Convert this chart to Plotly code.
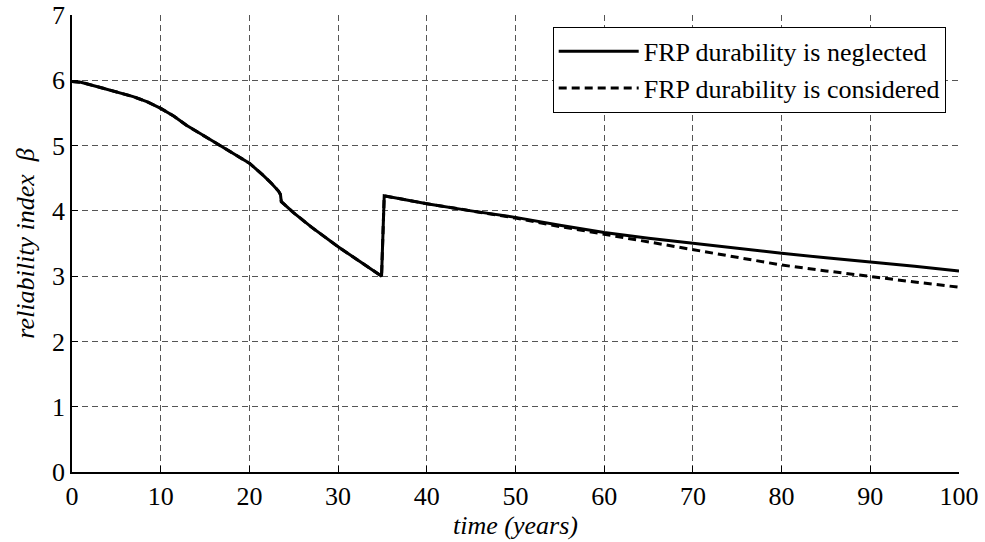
import plotly.graph_objects as go

# time (years)
time_neglected = [0, 1, 3.2, 5, 6.9, 8.5, 10, 11.5, 12.9, 14.5, 16.3, 18, 20, 21.5, 22.5, 23.3, 23.5, 23.6,
                  25, 27, 30, 32.5, 34.8, 34.9, 35.2, 40, 45, 50, 55, 60, 65, 70, 75, 80, 85, 90, 95, 100]
beta_neglected = [5.98, 5.97, 5.89, 5.82, 5.75, 5.67, 5.57, 5.45, 5.31, 5.18, 5.03, 4.9, 4.73, 4.55, 4.42, 4.3, 4.25, 4.14,
                  3.97, 3.75, 3.45, 3.22, 3.0, 3.0, 4.23, 4.11, 4.0, 3.9, 3.78, 3.67, 3.58, 3.5, 3.42, 3.35, 3.28, 3.22, 3.15, 3.08]

time_considered = [0, 1, 3.2, 5, 6.9, 8.5, 10, 11.5, 12.9, 14.5, 16.3, 18, 20, 21.5, 22.5, 23.3, 23.5, 23.6,
                   25, 27, 30, 32.5, 34.8, 34.9, 35.2, 40, 45, 50, 55, 60, 65, 70, 75, 80, 85, 90, 95, 100]
beta_considered = [5.98, 5.97, 5.89, 5.82, 5.75, 5.67, 5.57, 5.45, 5.31, 5.18, 5.03, 4.9, 4.73, 4.55, 4.42, 4.3, 4.25, 4.14,
                   3.97, 3.75, 3.45, 3.22, 3.0, 3.0, 4.23, 4.11, 4.0, 3.89, 3.76, 3.64, 3.52, 3.41, 3.29, 3.17, 3.08, 2.99, 2.91, 2.83]

x_ticks = [0, 10, 20, 30, 40, 50, 60, 70, 80, 90, 100]
y_ticks = [0, 1, 2, 3, 4, 5, 6, 7]

FONT = "Times New Roman"

fig = go.Figure()
fig.add_trace(go.Scatter(x=time_considered, y=beta_considered, mode="lines",
                         name="FRP durability is considered",
                         line=dict(color="black", width=3, dash="8px,5px")))
fig.add_trace(go.Scatter(x=time_neglected, y=beta_neglected, mode="lines",
                         name="FRP durability is neglected",
                         line=dict(color="black", width=3)))

axis_common = dict(
    showline=True, linecolor="black", linewidth=1.5, mirror=False,
    ticks="inside", ticklen=6, tickcolor="black",
    showgrid=True, gridcolor="#555555", gridwidth=1, griddash="6px,4px",
    zeroline=False, automargin=False,
    tickfont=dict(family=FONT, size=26, color="black"),
)

fig.update_xaxes(range=[0, 100], tickvals=x_ticks, ticktext=[str(v) for v in x_ticks],
                 title=dict(text="<i>time (years)</i>", font=dict(family=FONT, size=26, color="black"), standoff=2),
                 **axis_common)
fig.update_yaxes(range=[0, 7], tickvals=y_ticks, ticktext=[str(v) for v in y_ticks],
                 title=dict(text="<i>reliability index  β</i>", font=dict(family=FONT, size=26, color="black"), standoff=10),
                 **axis_common)

fig.update_layout(
    width=985, height=542,
    margin=dict(l=72, r=26, t=15, b=70),
    paper_bgcolor="white", plot_bgcolor="white",
    font=dict(family=FONT, size=26, color="black"),
    showlegend=True,
    legend=dict(x=0.985, y=0.974, xanchor="right", yanchor="top",
                bgcolor="white", bordercolor="black", borderwidth=1,
                font=dict(family=FONT, size=26, color="black"),
                traceorder="reversed", itemwidth=80, tracegroupgap=0),
)

fig.write_html("out.html", config={"displayModeBar": False},
               post_script="document.body.style.margin='0';document.body.style.overflow='hidden';")
